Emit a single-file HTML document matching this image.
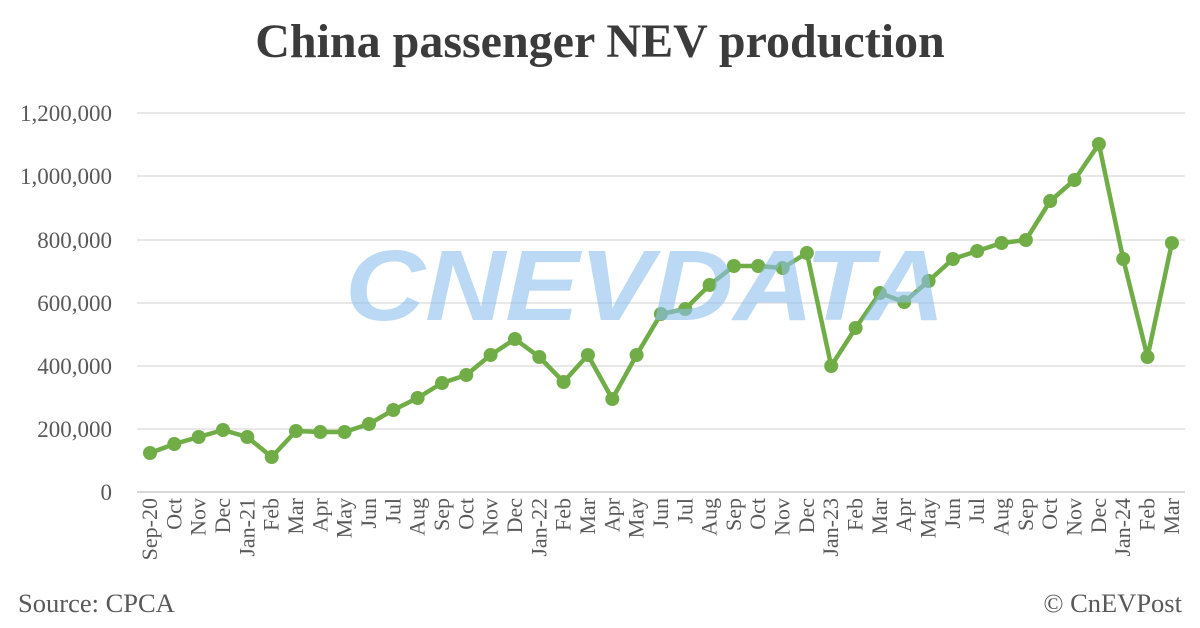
<!DOCTYPE html>
<html><head><meta charset="utf-8"><style>
html,body{margin:0;padding:0;background:#fff;}
svg{display:block;font-family:"Liberation Serif",serif;}
</style></head><body>
<svg width="1200" height="628" viewBox="0 0 1200 628" xmlns="http://www.w3.org/2000/svg">
<rect width="1200" height="628" fill="#fff"/>
<text x="600" y="57" text-anchor="middle" font-size="48" font-weight="bold" fill="#3b3b3b">China passenger NEV production</text>
<g stroke="#d9d9d9" stroke-width="1.2">
<line x1="137" x2="1185" y1="113" y2="113"/><line x1="137" x2="1185" y1="176" y2="176"/>
<line x1="137" x2="1185" y1="240" y2="240"/><line x1="137" x2="1185" y1="303" y2="303"/>
<line x1="137" x2="1185" y1="366" y2="366"/><line x1="137" x2="1185" y1="429" y2="429"/>
</g>
<line x1="137" x2="1185" y1="492" y2="492" stroke="#bfbfbf" stroke-width="1.2"/>
<g font-size="23" fill="#595959" text-anchor="end">
<text x="112" y="121">1,200,000</text><text x="112" y="184">1,000,000</text>
<text x="112" y="248">800,000</text><text x="112" y="311">600,000</text>
<text x="112" y="374">400,000</text><text x="112" y="437">200,000</text>
<text x="112" y="500">0</text>
</g>
<g font-size="22" fill="#595959" text-anchor="end">
<text transform="translate(157,498) rotate(-90)">Sep-20</text>
<text transform="translate(181.3,498) rotate(-90)">Oct</text>
<text transform="translate(205.7,498) rotate(-90)">Nov</text>
<text transform="translate(230,498) rotate(-90)">Dec</text>
<text transform="translate(254.3,498) rotate(-90)">Jan-21</text>
<text transform="translate(278.7,498) rotate(-90)">Feb</text>
<text transform="translate(303,498) rotate(-90)">Mar</text>
<text transform="translate(327.3,498) rotate(-90)">Apr</text>
<text transform="translate(351.6,498) rotate(-90)">May</text>
<text transform="translate(376,498) rotate(-90)">Jun</text>
<text transform="translate(400.3,498) rotate(-90)">Jul</text>
<text transform="translate(424.6,498) rotate(-90)">Aug</text>
<text transform="translate(449,498) rotate(-90)">Sep</text>
<text transform="translate(473.3,498) rotate(-90)">Oct</text>
<text transform="translate(497.6,498) rotate(-90)">Nov</text>
<text transform="translate(521.9,498) rotate(-90)">Dec</text>
<text transform="translate(546.3,498) rotate(-90)">Jan-22</text>
<text transform="translate(570.6,498) rotate(-90)">Feb</text>
<text transform="translate(594.9,498) rotate(-90)">Mar</text>
<text transform="translate(619.3,498) rotate(-90)">Apr</text>
<text transform="translate(643.6,498) rotate(-90)">May</text>
<text transform="translate(667.9,498) rotate(-90)">Jun</text>
<text transform="translate(692.3,498) rotate(-90)">Jul</text>
<text transform="translate(716.6,498) rotate(-90)">Aug</text>
<text transform="translate(740.9,498) rotate(-90)">Sep</text>
<text transform="translate(765.2,498) rotate(-90)">Oct</text>
<text transform="translate(789.6,498) rotate(-90)">Nov</text>
<text transform="translate(813.9,498) rotate(-90)">Dec</text>
<text transform="translate(838.2,498) rotate(-90)">Jan-23</text>
<text transform="translate(862.6,498) rotate(-90)">Feb</text>
<text transform="translate(886.9,498) rotate(-90)">Mar</text>
<text transform="translate(911.2,498) rotate(-90)">Apr</text>
<text transform="translate(935.6,498) rotate(-90)">May</text>
<text transform="translate(959.9,498) rotate(-90)">Jun</text>
<text transform="translate(984.2,498) rotate(-90)">Jul</text>
<text transform="translate(1008.6,498) rotate(-90)">Aug</text>
<text transform="translate(1032.9,498) rotate(-90)">Sep</text>
<text transform="translate(1057.2,498) rotate(-90)">Oct</text>
<text transform="translate(1081.5,498) rotate(-90)">Nov</text>
<text transform="translate(1105.9,498) rotate(-90)">Dec</text>
<text transform="translate(1130.2,498) rotate(-90)">Jan-24</text>
<text transform="translate(1154.5,498) rotate(-90)">Feb</text>
<text transform="translate(1178.9,498) rotate(-90)">Mar</text>
</g>
<polyline fill="none" stroke="#70ad47" stroke-width="4.5" stroke-linejoin="round" points="150,453 174.3,444 198.7,437 223,430 247.3,437 271.7,457 296,431 320.3,432 344.6,432 369,424 393.3,410 417.6,398 442,383 466.3,375 490.6,355 514.9,339 539.3,357 563.6,382 587.9,355 612.3,399 636.6,355 660.9,314 685.3,309 709.6,285 733.9,266 758.2,266 782.6,268 806.9,253 831.2,366 855.6,328 879.9,293 904.2,302 928.6,281 952.9,259 977.2,251 1001.6,243 1025.9,240 1050.2,201 1074.5,180 1098.9,144 1123.2,259 1147.5,357 1171.9,243"/>
<g fill="#70ad47">
<circle cx="150" cy="453" r="7"/><circle cx="174.3" cy="444" r="7"/><circle cx="198.7" cy="437" r="7"/><circle cx="223" cy="430" r="7"/><circle cx="247.3" cy="437" r="7"/><circle cx="271.7" cy="457" r="7"/><circle cx="296" cy="431" r="7"/><circle cx="320.3" cy="432" r="7"/><circle cx="344.6" cy="432" r="7"/><circle cx="369" cy="424" r="7"/><circle cx="393.3" cy="410" r="7"/><circle cx="417.6" cy="398" r="7"/><circle cx="442" cy="383" r="7"/><circle cx="466.3" cy="375" r="7"/><circle cx="490.6" cy="355" r="7"/><circle cx="514.9" cy="339" r="7"/><circle cx="539.3" cy="357" r="7"/><circle cx="563.6" cy="382" r="7"/><circle cx="587.9" cy="355" r="7"/><circle cx="612.3" cy="399" r="7"/><circle cx="636.6" cy="355" r="7"/><circle cx="660.9" cy="314" r="7"/><circle cx="685.3" cy="309" r="7"/><circle cx="709.6" cy="285" r="7"/><circle cx="733.9" cy="266" r="7"/><circle cx="758.2" cy="266" r="7"/><circle cx="782.6" cy="268" r="7"/><circle cx="806.9" cy="253" r="7"/><circle cx="831.2" cy="366" r="7"/><circle cx="855.6" cy="328" r="7"/><circle cx="879.9" cy="293" r="7"/><circle cx="904.2" cy="302" r="7"/><circle cx="928.6" cy="281" r="7"/><circle cx="952.9" cy="259" r="7"/><circle cx="977.2" cy="251" r="7"/><circle cx="1001.6" cy="243" r="7"/><circle cx="1025.9" cy="240" r="7"/><circle cx="1050.2" cy="201" r="7"/><circle cx="1074.5" cy="180" r="7"/><circle cx="1098.9" cy="144" r="7"/><circle cx="1123.2" cy="259" r="7"/><circle cx="1147.5" cy="357" r="7"/><circle cx="1171.9" cy="243" r="7"/>
</g>
<text x="645" y="320" text-anchor="middle" font-family="Liberation Sans,sans-serif" font-size="100" font-weight="bold" font-style="italic" fill="#8ec0ee" fill-opacity="0.6" textLength="600" lengthAdjust="spacingAndGlyphs">CNEVDATA</text>
<text x="18" y="612" font-size="26.5" fill="#595959">Source: CPCA</text>
<text x="1182" y="612" font-size="26.5" fill="#595959" text-anchor="end">© CnEVPost</text>
</svg>
</body></html>
